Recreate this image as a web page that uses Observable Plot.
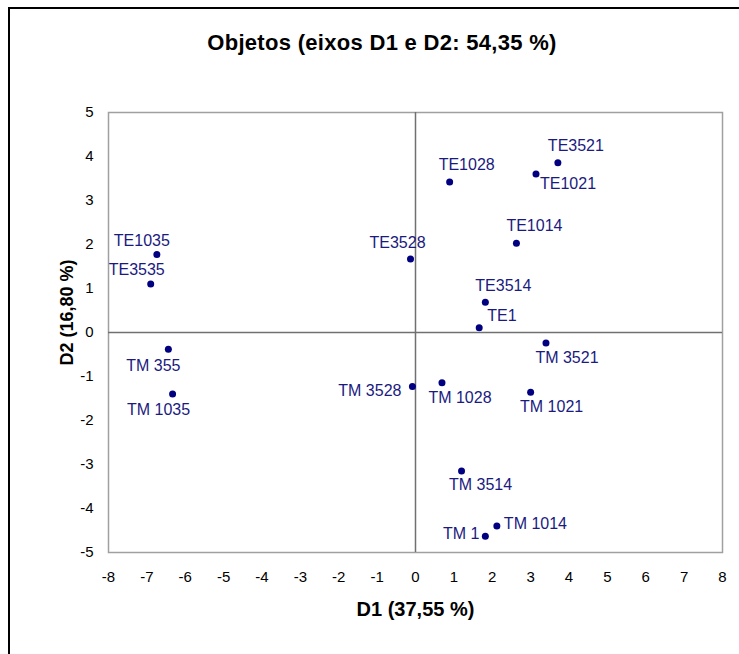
<!DOCTYPE html>
<html><head><meta charset="utf-8">
<script src="https://cdn.jsdelivr.net/npm/d3@7"></script>
<script src="https://cdn.jsdelivr.net/npm/@observablehq/plot@0.6"></script>
<style>
html,body{margin:0;padding:0;background:#fff;overflow:hidden;width:739px;height:654px;}
#frame{position:absolute;left:8px;top:7px;width:800px;height:700px;border-top:2px solid #000;border-left:2px solid #000;box-sizing:border-box;}
#title{position:absolute;left:0;top:30px;width:764px;text-align:center;font:bold 22px "Liberation Sans",Arial,sans-serif;line-height:26px;color:#000;letter-spacing:0.3px;}
#chart{position:absolute;left:0;top:70px;}
</style></head><body>
<div id="frame"></div>
<div id="title">Objetos (eixos D1 e D2: 54,35 %)</div>
<div id="chart"></div>
<script>
// ---- data ----
const names = ["TE1035","TE3535","TE3528","TE1028","TE3521","TE1021","TE1014","TE3514","TE1",
               "TM 355","TM 1035","TM 3528","TM 3521","TM 1028","TM 1021","TM 3514","TM 1014","TM 1"];
const d1 = [-6.74,-6.90,-0.13,0.89,3.71,3.14,2.63,1.82,1.66,
            -6.44,-6.33,-0.08,3.40,0.69,3.00,1.20,2.12,1.82];
const d2 = [1.77,1.10,1.67,3.42,3.86,3.60,2.03,0.69,0.11,
            -0.38,-1.40,-1.23,-0.24,-1.14,-1.36,-3.15,-4.40,-4.63];
const xTicks = [-8,-7,-6,-5,-4,-3,-2,-1,0,1,2,3,4,5,6,7,8];
const yTicks = [-5,-4,-3,-2,-1,0,1,2,3,4,5];
const xTitle = "D1 (37,55 %)";
const yTitle = "D2 (16,80 %)";

// ---- label layout (anchor, dx, dy) ----
const labelLayout = {
  "TE1035":["middle",-15,-14], "TE3535":["middle",-14,-14], "TE3528":["middle",-13,-16],
  "TE1028":["middle",17,-17], "TE3521":["middle",18,-17], "TE1021":["start",4,10],
  "TE1014":["middle",18,-17], "TE3514":["middle",18,-16], "TE1":["start",8,-12],
  "TM 355":["middle",-15,17], "TM 1035":["middle",-14,16], "TM 3528":["end",-11,4],
  "TM 3521":["middle",21,15], "TM 1028":["middle",18,15], "TM 1021":["middle",21,15],
  "TM 3514":["middle",19,14], "TM 1014":["start",7,-2], "TM 1":["end",-6,-2]
};

const data = names.map((n,i)=>({name:n, d1:d1[i], d2:d2[i]}));
const font = '"Liberation Sans", Arial, sans-serif';
const navy = "#000080";

const labelMarks = data.map(d => {
  const [anchor, dx, dy] = labelLayout[d.name];
  return Plot.text([d], {x:"d1", y:"d2", text:"name", textAnchor:anchor, lineAnchor:"middle",
    dx, dy, fill:"#1a1a80", fontSize:16, fontFamily:font});
});

const chart = Plot.plot({
  width:739, height:584,
  marginLeft:108, marginRight:17, marginTop:42, marginBottom:102,
  style:{fontFamily:font, fontSize:"15px", color:"#000", background:"transparent"},
  x:{domain:[-8,8], ticks:xTicks, tickFormat:d=>String(d), tickSize:0, tickPadding:19, label:null},
  y:{domain:[-5,5], ticks:yTicks, tickFormat:d=>String(d), tickSize:0, tickPadding:15, label:null},
  marks:[
    Plot.frame({stroke:"#a0a0a0", strokeWidth:1.5}),
    Plot.ruleX([0], {stroke:"#707070", strokeWidth:1.5}),
    Plot.ruleY([0], {stroke:"#707070", strokeWidth:1.5}),
    Plot.dot(data, {x:"d1", y:"d2", r:3.5, fill:navy, stroke:null}),
    ...labelMarks,
    Plot.text([xTitle], {frameAnchor:"bottom", dy:57, textAnchor:"middle", lineAnchor:"middle", fontWeight:"bold", fontSize:20, fill:"#000"}),
    Plot.text([yTitle], {frameAnchor:"left", dx:-41, dy:-20, rotate:-90, textAnchor:"middle", lineAnchor:"middle", fontWeight:"bold", fontSize:18, fill:"#000"})
  ]
});
document.getElementById("chart").appendChild(chart);
</script>
</body></html>
